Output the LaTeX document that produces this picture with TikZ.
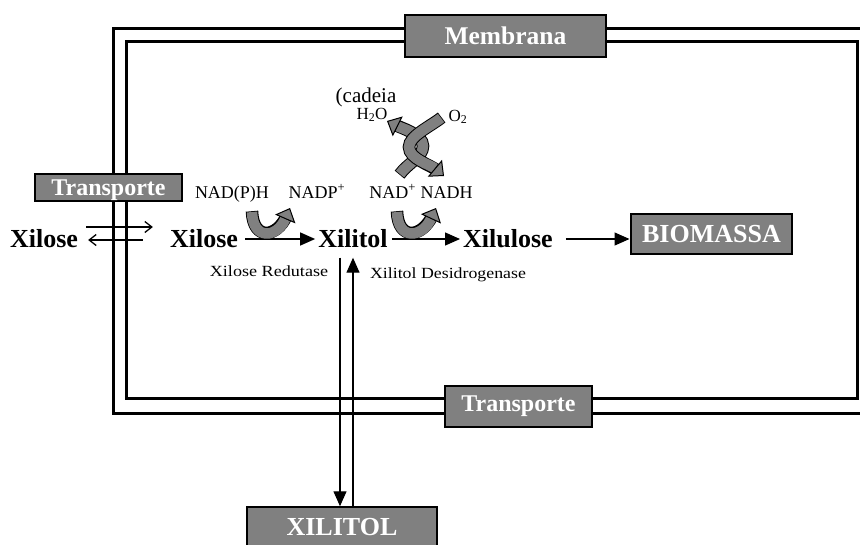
\documentclass[tikz,border=0pt]{standalone}
\usepackage{fontspec}
\setmainfont{Liberation Serif}
\usetikzlibrary{arrows.meta,calc}
\tikzset{
  membrane/.style={line width=3pt},
  gbox/.style={draw=black, line width=1.5pt, fill=gray, text=white, inner sep=0pt},
  lab/.style={font=\bfseries\fontsize{26}{26}\selectfont, inner sep=0pt, text height=17pt, text depth=0pt},
  small/.style={font=\fontsize{18}{18}\selectfont, inner sep=0pt, anchor=base},
  enz/.style={font=\fontsize{15.5}{15.5}\selectfont, inner sep=0pt, anchor=base},
  arr/.style={line width=1.3pt, -{Triangle[length=15pt,width=13pt]}},
  barb/.style={line width=1.3pt, -{Straight Barb[length=7pt,width=11pt]}},
  gshaft/.style={line width=12.5pt, draw=black, shorten >=8pt, shorten <=-0.8pt},
  gtip/.style={line width=10.5pt, draw=gray, -{Triangle[length=12pt,width=22pt,line width=1pt,color=black,fill=gray]}},
}
\newcommand\grayarrow[1]{\draw[gshaft] #1; \draw[gtip] #1;}
\begin{document}
\begin{tikzpicture}[x=1pt,y=-1pt]
\useasboundingbox (0,0) rectangle (860,544);
\clip (0,0) rectangle (860,544);
% membrane
\draw[membrane] (113,28) rectangle (880,413);
\draw[membrane] (126,41) rectangle (857,398);
% boxes
\node[gbox, font=\bfseries\fontsize{25.5}{25.5}\selectfont, minimum width=201pt, minimum height=42pt, text height=17pt, text depth=0pt] (mem) at (505.5,36) {Membrana};
\node[gbox, font=\bfseries\fontsize{24}{24}\selectfont, minimum width=147pt, minimum height=41pt, text height=16pt, text depth=7pt] (tb) at (518.5,406.5) {Transporte};
\node[gbox, font=\bfseries\fontsize{24}{24}\selectfont, minimum width=147pt, minimum height=27pt, text height=16pt, text depth=0pt] (tl) at (108.5,187.5) {Transporte};
\node[gbox, font=\bfseries\fontsize{26}{26}\selectfont, minimum width=161pt, minimum height=40pt, text height=17pt, text depth=0pt] (bio) at (711.5,234) {BIOMASSA};
\node[gbox, font=\bfseries\fontsize{26}{26}\selectfont, minimum width=190pt, minimum height=50pt, text height=17pt, text depth=11pt] (xb) at (342,532) {XILITOL};
% main labels
\node[lab] (xl) at (44,239) {Xilose};
\node[lab] (xm) at (204,239) {Xilose};
\node[lab] (xt) at (353,239) {Xilitol};
\node[lab] (xu) at (508,239) {Xilulose};
% small labels
\node[small] (nadph) at (232,198) {NAD(P)H};
\node[small] (nadp) at (317,198) {NADP\textsuperscript{+}};
\node[small] (nad) at (421,198) {NAD\textsuperscript{+} NADH};
\node[small, font=\fontsize{21}{21}\selectfont] (cad) at (366,102) {(cadeia};
\node[small, font=\fontsize{17}{17}\selectfont] (h2o) at (372,119) {H\textsubscript{2}O};
\node[small, font=\fontsize{17}{17}\selectfont] (o2) at (458,121) {O\textsubscript{2}};
\node[enz] (xr) at (269,276) {\scalebox{1.17}[1]{Xilose Redutase}};
\node[enz] (xd) at (448,278) {\scalebox{1.15}[1]{Xilitol Desidrogenase}};
% transport arrows
\draw[barb] ($(xl.east)+(8,-12)$) -- ($(xm.west)+(-17,-12)$);
\draw[barb] ($(xm.west)+(-27,1)$) -- ($(xl.east)+(10,1)$);
% pathway arrows
\draw[arr, shorten <=7pt, shorten >=3pt] (xm.east) -- (xt.west);
\draw[arr, shorten <=4pt, shorten >=3pt] (xt.east) -- (xu.west);
\draw[arr, shorten <=13pt, shorten >=0.75pt] (xu.east) -- (xu.east -| bio.west);
% vertical arrows
\coordinate (d1) at ($(xt.south)+(-13,10)$);
\coordinate (u1) at ($(xt.south)+(0,10)$);
\draw[arr] (d1) -- (d1 |- xb.north);
\draw[arr] (u1 |- xb.north) -- (u1);
% gray curved arrows
\grayarrow{(252,212) .. controls (253,241) and (277,238) .. (290,208)}
\grayarrow{(397,212) .. controls (398,241) and (422,238) .. (436,208)}
\grayarrow{(400,174) .. controls (408,163) and (423,157) .. (423,146) .. controls (423,134) and (401,128) .. (387,121)}
\grayarrow{(441,118) .. controls (431,126) and (409,136) .. (409,147) .. controls (409,159) and (431,165) .. (444,176)}
\end{tikzpicture}
\end{document}
